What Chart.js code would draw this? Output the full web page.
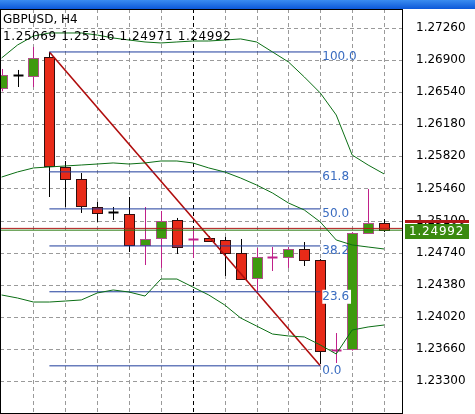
<!DOCTYPE html>
<html>
<head>
<meta charset="utf-8">
<script src="https://cdn.jsdelivr.net/npm/chart.js@4/dist/chart.umd.min.js"></script>
<style>
  html, body { margin: 0; padding: 0; background: #fff; }
  #wrap { width: 475px; height: 414px; }
</style>
</head>
<body>
<div id="wrap"><canvas id="chart" width="475" height="414"></canvas></div>
<script>
// Candles, GBPUSD H4 (index 0..24)
const opens  = [1.26587, 1.26733, 1.26722, 1.26935, 1.25701, 1.25566, 1.25252, 1.25196, 1.25173, 1.24826, 1.24904, 1.25106, 1.24893, 1.24904, 1.24882, 1.24736, 1.24456, 1.24691, 1.24691, 1.24781, 1.24657, 1.23648, 1.23659, 1.24960, 1.25069];
const highs  = [1.26800, 1.26789, 1.27047, 1.26991, 1.25768, 1.25633, 1.25308, 1.25252, 1.25364, 1.25252, 1.25207, 1.25129, 1.25000, 1.24927, 1.24915, 1.24893, 1.24792, 1.24803, 1.24803, 1.24859, 1.24669, 1.23838, 1.24971, 1.25454, 1.25116];
const lows   = [1.26550, 1.26598, 1.26598, 1.25364, 1.25252, 1.25185, 1.25084, 1.25106, 1.24747, 1.24601, 1.24568, 1.24725, 1.24680, 1.24860, 1.24478, 1.24433, 1.24298, 1.24534, 1.24568, 1.24590, 1.23491, 1.23502, 1.23640, 1.24949, 1.24971];
const closes = [1.26733, 1.26733, 1.26923, 1.25712, 1.25566, 1.25263, 1.25185, 1.25196, 1.24826, 1.24893, 1.25095, 1.24803, 1.24893, 1.24871, 1.24736, 1.24444, 1.24691, 1.24691, 1.24781, 1.24657, 1.23637, 1.23648, 1.24960, 1.25072, 1.24992];
// doji colour: true = drawn as bull (pink cross)
const dojiBull = [false, false, false, false, false, false, false, false, false, false, false, false, true, false, false, false, false, true, false, false, false, true, false, false, false];

// Bollinger bands
const bandUpper  = [1.26923, 1.27069, 1.27170, 1.27204, 1.27204, 1.27204, 1.27181, 1.27148, 1.27125, 1.27103, 1.27092, 1.27103, 1.27114, 1.27114, 1.27125, 1.27137, 1.27103, 1.26991, 1.26879, 1.26710, 1.26531, 1.26284, 1.25835, 1.25723, 1.25623];
const bandMiddle = [1.25588, 1.25645, 1.25690, 1.25701, 1.25712, 1.25723, 1.25734, 1.25746, 1.25734, 1.25746, 1.25768, 1.25768, 1.25746, 1.25690, 1.25645, 1.25577, 1.25499, 1.25409, 1.25297, 1.25218, 1.25084, 1.24882, 1.24826, 1.24803, 1.24781];
const bandLower  = [1.24265, 1.24231, 1.24186, 1.24186, 1.24197, 1.24209, 1.24287, 1.24321, 1.24298, 1.24253, 1.24444, 1.24444, 1.24354, 1.24265, 1.24153, 1.24007, 1.23917, 1.23827, 1.23805, 1.23794, 1.23704, 1.23603, 1.23872, 1.23906, 1.23928];

// Fibonacci retracement
const fibHigh = 1.26991, fibLow = 1.23470;
const fibStart = 3, fibEnd = 20;
const fibLevels = [100.0, 61.8, 50.0, 38.2, 23.6, 0.0];

// Price axis
const priceTicks = [1.23300, 1.23660, 1.24020, 1.24380, 1.24740, 1.25100, 1.25460, 1.25820, 1.26180, 1.26540, 1.26900, 1.27260];
const bid = 1.24992, ask = 1.25012;
const header = 'GBPUSD, H4';
const ohlcText = '1.25069 1.25116 1.24971 1.24992';

const idx = opens.map((_, i) => i);
const toPts = arr => arr.map((v, i) => ({ x: i, y: v }));
const fibPrice = l => fibLow + (fibHigh - fibLow) * l / 100;

const lineDs = (data, color, width) => ({
  type: 'line', data, borderColor: color, borderWidth: width,
  pointRadius: 0, tension: 0, fill: false
});

const datasets = [
  lineDs(toPts(bandUpper), '#0b6e14', 1),
  lineDs(toPts(bandMiddle), '#0b6e14', 1),
  lineDs(toPts(bandLower), '#0b6e14', 1),
  lineDs([{ x: -1, y: ask }, { x: 27, y: ask }], '#b01818', 1),
  lineDs([{ x: -1, y: bid }, { x: 27, y: bid }], '#2a7a10', 1)
];
fibLevels.forEach(l => {
  datasets.push(lineDs([{ x: fibStart, y: fibPrice(l) }, { x: fibEnd, y: fibPrice(l) }], '#1e3c9c', 1));
});
datasets.push(lineDs([{ x: fibStart, y: fibHigh }, { x: fibEnd, y: fibLow }], '#b00c0c', 1.6));

// grid and candles drawn through the chart's scales
const mt4Plugin = {
  id: 'mt4',
  beforeDatasetsDraw(chart) {
    const { ctx, chartArea: a, scales: { x, y } } = chart;
    ctx.save();
    ctx.strokeStyle = '#9a9a9a';
    ctx.lineWidth = 1;
    ctx.setLineDash([4, 3]);
    priceTicks.forEach(v => {
      const py = Math.round(y.getPixelForValue(v)) + 0.5;
      ctx.beginPath(); ctx.moveTo(a.left, py); ctx.lineTo(a.right, py); ctx.stroke();
    });
    for (let i = 2; i <= 24; i += 2) {
      const px = Math.round(x.getPixelForValue(i)) + 0.5;
      ctx.strokeStyle = i === 12 ? '#000' : '#9a9a9a';
      ctx.beginPath(); ctx.moveTo(px, a.top); ctx.lineTo(px, a.bottom); ctx.stroke();
    }
    ctx.setLineDash([]);
    // candles
    idx.forEach(i => {
      const px = Math.round(x.getPixelForValue(i)) + 0.5;
      const o = y.getPixelForValue(opens[i]), c = y.getPixelForValue(closes[i]);
      const h = y.getPixelForValue(highs[i]), l = y.getPixelForValue(lows[i]);
      const bull = closes[i] > opens[i] || (closes[i] === opens[i] && dojiBull[i]);
      const wick = bull ? '#c0208a' : '#000';
      ctx.strokeStyle = wick;
      ctx.beginPath(); ctx.moveTo(px, h); ctx.lineTo(px, l); ctx.stroke();
      const top = Math.round(Math.min(o, c)), bot = Math.round(Math.max(o, c));
      if (bot - top < 1) {
        ctx.beginPath(); ctx.moveTo(px - 5, top + 0.5); ctx.lineTo(px + 5, top + 0.5); ctx.lineWidth = 2; ctx.stroke(); ctx.lineWidth = 1;
      } else {
        ctx.fillStyle = bull ? '#3e9a0e' : '#e82a18';
        ctx.fillRect(px - 5, top, 10, bot - top);
        ctx.strokeStyle = bull ? '#b0508a' : '#301010';
        ctx.strokeRect(px - 5, top + 0.5, 10, bot - top);
      }
    });
    ctx.restore();
  },
  afterDatasetsDraw(chart) {
    const { ctx, chartArea: a, scales: { x, y } } = chart;
    ctx.save();
    ctx.font = '12px "DejaVu Sans"';
    ctx.textBaseline = 'middle';
    fibLevels.forEach(l => {
      const px = x.getPixelForValue(fibEnd) + 2;
      const py = y.getPixelForValue(fibPrice(l)) + 5;
      const t = l.toFixed(1);
      if (l === 23.6) {
        ctx.fillStyle = '#fff';
        ctx.fillRect(px, py - 7, ctx.measureText(t).width + 2, 14);
      }
      ctx.fillStyle = '#3a6cc0';
      ctx.fillText(t, px, py);
    });
    // frame
    ctx.strokeStyle = '#000';
    ctx.strokeRect(a.left + 0.5, a.top + 0.5, a.right - a.left - 1, a.bottom - a.top);
    // title bar
    const g = ctx.createLinearGradient(0, 0, 0, a.top);
    g.addColorStop(0, '#3a8cf0'); g.addColorStop(1, '#0c58d8');
    ctx.fillStyle = g;
    ctx.fillRect(0, 0, chart.width, a.top);
    // header texts
    ctx.fillStyle = '#000';
    ctx.font = '12px "DejaVu Sans"';
    ctx.fillText(header, 3, 20);
    ctx.letterSpacing = '0.6px';
    ctx.fillText(ohlcText, 3, 37);
    ctx.letterSpacing = '0px';
    // bid label
    const by = Math.round(y.getPixelForValue(bid));
    const ay = Math.round(y.getPixelForValue(ask));
    ctx.fillStyle = '#b01818';
    ctx.fillRect(a.right + 2, ay - 8, 64, 3);
    ctx.fillStyle = '#3a8a10';
    ctx.fillRect(a.right + 2, by - 6, 64, 15);
    ctx.fillStyle = '#fff';
    ctx.letterSpacing = '0.8px';
    ctx.fillText(bid.toFixed(5), a.right + 6, by + 2);
    ctx.restore();
  }
};

new Chart(document.getElementById('chart'), {
  type: 'line',
  data: { datasets },
  options: {
    responsive: false,
    animation: false,
    devicePixelRatio: 1,
    layout: { padding: { top: 9, left: 0, bottom: 1, right: 0 } },
    plugins: { legend: { display: false }, tooltip: { enabled: false } },
    scales: {
      x: { type: 'linear', min: -0.1, max: 25.19, display: false },
      y: {
        type: 'linear', position: 'right', min: 1.22941, max: 1.27473,
        afterBuildTicks: s => { s.ticks = priceTicks.map(v => ({ value: v })); },
        afterFit: s => { s.width = 72; s.paddingTop = 0; s.paddingBottom = 0; },
        grid: { display: false, drawTicks: true },
        border: { display: false },
        ticks: {
          color: '#000', padding: 5,
          font: { family: 'DejaVu Sans', size: 12 },
          callback: v => v.toFixed(5)
        }
      }
    }
  },
  plugins: [mt4Plugin]
});
</script>
</body>
</html>
